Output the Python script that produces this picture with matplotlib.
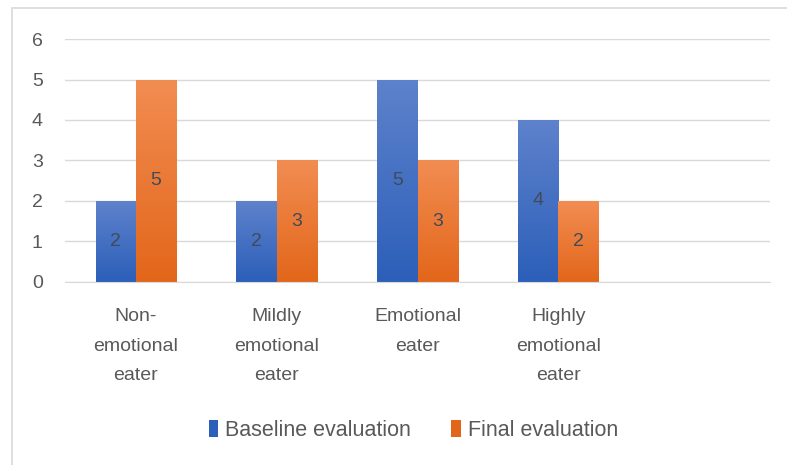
import numpy as np
import matplotlib
matplotlib.use("Agg")
import matplotlib.pyplot as plt
from matplotlib.colors import LinearSegmentedColormap
from matplotlib.patches import Rectangle

plt.rcParams['font.family'] = ['Liberation Sans', 'DejaVu Sans']

categories = ["Non-\nemotional\neater", "Mildly\nemotional\neater",
              "Emotional\neater", "Highly\nemotional\neater"]
baseline = [2, 2, 5, 4]
final = [5, 3, 3, 2]
series_names = ["Baseline evaluation", "Final evaluation"]

# gradient colours (top, bottom)
blue_grad = ("#5e82cc", "#2c5fb9")
orange_grad = ("#f28d52", "#e2661a")

fig = plt.figure(figsize=(7.87, 4.65), dpi=100)
ax = fig.add_axes([0.083, 0.394, 0.895, 0.522])

# outer chart border (runs off the right and bottom like the screenshot)
fig.patches.append(Rectangle((0.0152, -0.1), 1.2, 1.083, transform=fig.transFigure,
                             fill=False, edgecolor="#d9d9d9", lw=1.2))

x = np.arange(len(categories))
w = 0.285
grad = np.linspace(0, 1, 256).reshape(-1, 1)


def gradient_bars(xpos, vals, cols, label):
    bars = ax.bar(xpos, vals, w, color=cols[1], label=label, zorder=2)
    cmap = LinearSegmentedColormap.from_list("g", [cols[1], cols[0]])
    for b in bars:
        x0, y0 = b.get_x(), b.get_y()
        im = ax.imshow(grad, extent=[x0, x0 + b.get_width(), y0, y0 + b.get_height()],
                       origin="lower", aspect="auto", cmap=cmap, zorder=2.1)
        im.set_clip_path(b)
    labs = ax.bar_label(bars, label_type="center", fontsize=14, color="#404a5a")
    for t in labs:
        t.set_zorder(5)
    return bars


gradient_bars(x - w / 2, baseline, blue_grad, series_names[0])
gradient_bars(x + w / 2, final, orange_grad, series_names[1])

# one empty slot on the right, as in the original
ax.set_xlim(-0.5, len(categories) + 0.5)
ax.set_ylim(0, 6)
ax.set_yticks(range(0, 7))
ax.set_xticks(x)
ax.set_xticklabels(categories, fontsize=14, color="#595959", linespacing=1.95)
ax.tick_params(axis="x", length=0, pad=19)
ax.tick_params(axis="y", length=0, pad=24, labelsize=14, labelcolor="#595959")
for lab in ax.get_yticklabels():
    lab.set_horizontalalignment("left")
ax.grid(axis="y", color="#d9d9d9", lw=1, zorder=0)
ax.set_axisbelow(True)
for s in ["top", "right", "left"]:
    ax.spines[s].set_visible(False)
ax.spines["bottom"].set_color("#d9d9d9")

fig.legend(loc="center", bbox_to_anchor=(0.525, 0.074), ncol=2, frameon=False,
           fontsize=15.5, handlelength=0.45, handleheight=0.8, handletextpad=0.3,
           columnspacing=1.9, labelcolor="#595959")

fig.savefig("out.png", dpi=100)
